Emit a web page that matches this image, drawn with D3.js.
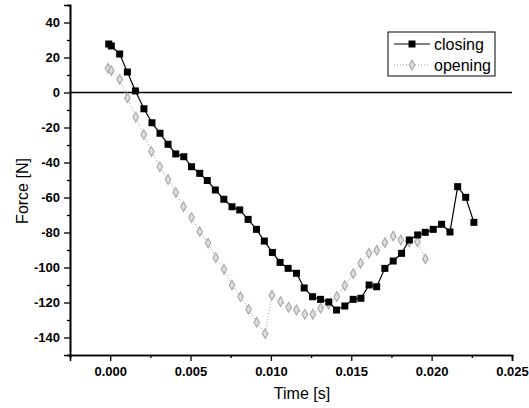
<!DOCTYPE html>
<html>
<head>
<meta charset="utf-8">
<script src="https://cdn.jsdelivr.net/npm/d3@7"></script>
<style>
  body { margin: 0; background: #fff; }
  svg { display: block; font-family: "Liberation Sans", Arial, sans-serif; }
</style>
</head>
<body>
<svg id="chart" width="529" height="408"></svg>
<script>
// Closing measurement
const closingTime = [-0.00009, 0.00007, 0.00059, 0.00107, 0.00157, 0.00210, 0.00260, 0.00310, 0.00360, 0.00408,
  0.00458, 0.00506, 0.00557, 0.00604, 0.00654, 0.00707, 0.00758, 0.00806, 0.00858, 0.00910,
  0.00959, 0.01009, 0.01057, 0.01107, 0.01159, 0.01207, 0.01259, 0.01309, 0.01360, 0.01408,
  0.01460, 0.01512, 0.01560, 0.01611, 0.01658, 0.01709, 0.01761, 0.01813, 0.01861, 0.01913,
  0.01960, 0.02010, 0.02062, 0.02114, 0.02162, 0.02212, 0.02263];
const closingForce = [27.7, 26.6, 22.0, 11.7, 0.9, -9.3, -17.3, -23.3, -29.6, -35.1,
  -36.7, -42.4, -46.2, -50.3, -55.7, -61.0, -65.3, -67.1, -72.5, -78.2,
  -84.9, -91.4, -97.1, -100.5, -103.3, -111.7, -116.7, -118.2, -119.7, -124.3,
  -122.0, -118.2, -117.6, -110.0, -111.0, -100.5, -96.3, -91.9, -84.3, -81.4,
  -79.9, -78.2, -75.3, -79.7, -53.8, -59.9, -74.2];

// Opening measurement
const openingTime = [-0.00014, 0.00007, 0.00059, 0.00107, 0.00159, 0.00209, 0.00257, 0.00309, 0.00360, 0.00408,
  0.00456, 0.00506, 0.00557, 0.00609, 0.00657, 0.00708, 0.00758, 0.00811, 0.00861, 0.00912,
  0.00964, 0.01006, 0.01060, 0.01110, 0.01159, 0.01211, 0.01261, 0.01309, 0.01359, 0.01410,
  0.01460, 0.01512, 0.01558, 0.01610, 0.01659, 0.01709, 0.01761, 0.01809, 0.01861, 0.01912,
  0.01961];
const openingForce = [13.8, 12.5, 7.5, -3.1, -14.0, -24.0, -33.7, -42.4, -49.7, -57.1,
  -65.3, -71.4, -79.5, -86.0, -94.3, -101.0, -110.0, -116.7, -123.9, -131.3,
  -137.8, -115.9, -119.5, -122.7, -124.3, -126.7, -126.7, -123.3, -120.9, -116.6,
  -110.3, -103.5, -97.6, -91.9, -90.2, -85.8, -82.0, -84.3, -85.3, -85.3,
  -95.1];

const xTicks = [0, 0.005, 0.010, 0.015, 0.020, 0.025];
const xMinorTicks = [-0.0025, 0.0025, 0.0075, 0.0125, 0.0175, 0.0225];
const yTicks = [-140, -120, -100, -80, -60, -40, -20, 0, 20, 40];
const yMinorTicks = [-150, -130, -110, -90, -70, -50, -30, -10, 10, 30, 50];
const seriesNames = ["closing", "opening"];

const width = 529, height = 408;
const margin = { top: 5, right: 17, bottom: 53, left: 70 };

const svg = d3.select("#chart");

// Scales
const x = d3.scaleLinear()
  .domain([-0.0025, 0.025])
  .range([margin.left, width - margin.right]);

const y = d3.scaleLinear()
  .domain([-150, 50])
  .range([height - margin.bottom, margin.top]);

const closing = closingTime.map((t, i) => ({ t, f: closingForce[i] }));
const opening = openingTime.map((t, i) => ({ t, f: openingForce[i] }));

// Zero line
svg.append("line")
  .attr("x1", x(-0.0025)).attr("x2", x(0.025))
  .attr("y1", y(0)).attr("y2", y(0))
  .attr("stroke", "#000").attr("stroke-width", 1.3);

const line = d3.line().x(d => x(d.t)).y(d => y(d.f));

// Opening series (behind)
svg.append("path")
  .datum(opening)
  .attr("fill", "none")
  .attr("stroke", "#999")
  .attr("stroke-width", 1)
  .attr("stroke-dasharray", "1,2")
  .attr("d", line);

const marker = d3.symbol().type(d3.symbolDiamond).size(26);

svg.append("g")
  .selectAll("path")
  .data(opening)
  .join("path")
  .attr("transform", d => `translate(${x(d.t)},${y(d.f)})`)
  .attr("d", marker)
  .attr("fill", "#e0e0e0")
  .attr("stroke", "#aaa")
  .attr("stroke-width", 1.2);

// Closing series
svg.append("path")
  .datum(closing)
  .attr("fill", "none")
  .attr("stroke", "#000")
  .attr("stroke-width", 1.2)
  .attr("d", line);

svg.append("g")
  .selectAll("rect")
  .data(closing)
  .join("rect")
  .attr("x", d => x(d.t) - 3.5)
  .attr("y", d => y(d.f) - 3.5)
  .attr("width", 7)
  .attr("height", 7)
  .attr("fill", "#000");

// Axes
const xAxis = svg.append("g")
  .attr("transform", `translate(0,${height - margin.bottom})`);
xAxis.call(d3.axisBottom(x).tickValues(xMinorTicks).tickSize(3).tickFormat(""));
xAxis.append("g").call(d3.axisBottom(x).tickValues(xTicks).tickSize(6).tickPadding(6)
  .tickFormat(d3.format(".3f")));

const yAxis = svg.append("g")
  .attr("transform", `translate(${margin.left},0)`);
yAxis.call(d3.axisLeft(y).tickValues(yMinorTicks).tickSize(3).tickFormat(""));
yAxis.append("g").call(d3.axisLeft(y).tickValues(yTicks).tickSize(6).tickPadding(4)
  .tickFormat(d => String(d)));

svg.selectAll(".domain").attr("stroke", "#000").attr("stroke-width", 1.6);
svg.selectAll(".tick line").attr("stroke", "#000").attr("stroke-width", 1.3);
svg.selectAll(".tick text")
  .attr("fill", "#000")
  .style("font-size", "13px")
  .style("font-weight", "bold");

// Axis titles
svg.append("text")
  .attr("x", 302)
  .attr("y", 399)
  .attr("text-anchor", "middle")
  .style("font-size", "16px")
  .text("Time [s]");

svg.append("text")
  .attr("transform", "translate(28,191) rotate(-90)")
  .attr("text-anchor", "middle")
  .style("font-size", "16px")
  .text("Force [N]");

// Legend
const legend = svg.append("g");
legend.append("rect")
  .attr("x", 388).attr("y", 32)
  .attr("width", 107).attr("height", 44)
  .attr("fill", "#fff")
  .attr("stroke", "#000")
  .attr("stroke-width", 1);

const rowY = [44, 65];
legend.append("line")
  .attr("x1", 394).attr("x2", 430).attr("y1", rowY[0]).attr("y2", rowY[0])
  .attr("stroke", "#000").attr("stroke-width", 1.2);
legend.append("rect")
  .attr("x", 408.5).attr("y", rowY[0] - 3.5).attr("width", 7).attr("height", 7)
  .attr("fill", "#000");
legend.append("line")
  .attr("x1", 394).attr("x2", 430).attr("y1", rowY[1]).attr("y2", rowY[1])
  .attr("stroke", "#999").attr("stroke-width", 1).attr("stroke-dasharray", "1,2");
legend.append("path")
  .attr("transform", `translate(412,${rowY[1]})`)
  .attr("d", marker)
  .attr("fill", "#e0e0e0").attr("stroke", "#aaa").attr("stroke-width", 1.2);

legend.selectAll("text.lbl")
  .data(seriesNames)
  .join("text")
  .attr("class", "lbl")
  .attr("x", 434)
  .attr("y", (d, i) => rowY[i] + 6)
  .style("font-size", "16px")
  .text(d => d);
</script>
</body>
</html>
